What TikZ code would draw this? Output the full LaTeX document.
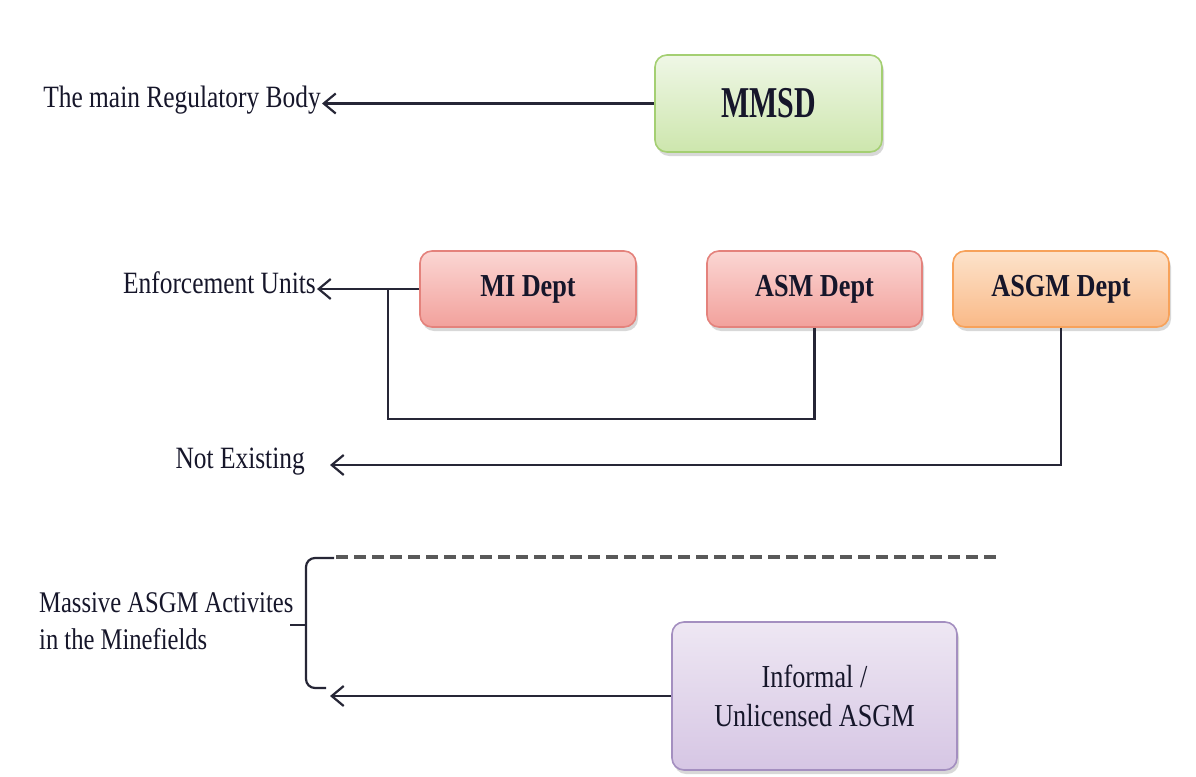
\documentclass[tikz,border=0pt]{standalone}
\usepackage{fontspec}
\setmainfont{Liberation Serif}[FakeStretch=0.82]
\newfontfamily\narrowfont{Liberation Serif}[FakeStretch=0.68]
\usetikzlibrary{arrows.meta,shadows}
\definecolor{linec}{HTML}{262636}
\definecolor{gtop}{HTML}{EFF7E6}\definecolor{gbot}{HTML}{CDE6AD}\definecolor{gdraw}{HTML}{A4CF72}
\definecolor{rtop}{HTML}{FBD6D3}\definecolor{rbot}{HTML}{F2A19C}\definecolor{rdraw}{HTML}{E4827C}
\definecolor{otop}{HTML}{FDE3CB}\definecolor{obot}{HTML}{F9B987}\definecolor{odraw}{HTML}{F7A25A}
\definecolor{ptop}{HTML}{EEE7F3}\definecolor{pbot}{HTML}{D6C6E4}\definecolor{pdraw}{HTML}{A48FC0}
\definecolor{textc}{HTML}{16162A}
\begin{document}
\begin{tikzpicture}[x=1pt,y=-1pt,
  box/.style={rounded corners=12pt, line width=1.6pt, align=center, text=textc,
    drop shadow={shadow xshift=2pt, shadow yshift=-4pt, opacity=0.25, fill=black!60}},
  greenbox/.style={box, draw=gdraw, top color=gtop, bottom color=gbot},
  redbox/.style={box, draw=rdraw, top color=rtop, bottom color=rbot},
  orangebox/.style={box, draw=odraw, top color=otop, bottom color=obot},
  purplebox/.style={box, draw=pdraw, top color=ptop, bottom color=pbot},
  deptfont/.style={font=\bfseries\fontsize{32}{38}\selectfont},
  lbl/.style={inner sep=1pt, text=textc, font=\fontsize{31}{37}\selectfont},
  conn/.style={draw=linec, line width=2.2pt},
  arr/.style={conn, -{Straight Barb[length=12pt,width=20pt]}},
  dashline/.style={draw=black!65, line width=3.2pt, dash pattern=on 12pt off 6pt}
]
\useasboundingbox[fill=white] (0,0) rectangle (1196,776);

% boxes
\node[greenbox, minimum width=227pt, minimum height=97pt, font=\narrowfont\bfseries\fontsize{44}{50}\selectfont] (mmsd) at (768.5,103.5) {MMSD};
\node[redbox, deptfont, minimum width=216pt, minimum height=76pt] (mi) at (528,289) {MI Dept};
\node[redbox, deptfont, minimum width=215pt, minimum height=76pt] (asm) at (814.5,289) {ASM Dept};
\node[orangebox, deptfont, minimum width=216pt, minimum height=76pt] (asgm) at (1061,289) {ASGM Dept};
\node[purplebox, minimum width=285pt, minimum height=148pt, font=\fontsize{32}{39}\selectfont] (inf) at (814.5,696) {Informal /\\Unlicensed ASGM};

% labels
\node[lbl, anchor=east] (reg) at (322,100) {The main Regulatory Body};
\node[lbl, anchor=east] (enf) at (317,283) {Enforcement Units};
\node[lbl, anchor=east] (ne) at (306,462) {Not Existing};
\node[lbl, anchor=west, align=left, font=\fontsize{30}{37}\selectfont] (mass) at (38,621) {Massive ASGM Activites\\in the Minefields};

% coordinates
\coordinate (jtop) at (388,289);
\coordinate (jbot) at (388,419);
\coordinate (netip) at (330,465);
\coordinate (bt) at (334,558);
\coordinate (bc1) at (306,558);
\coordinate (bc2) at (306,688);
\coordinate (bb) at (326,688);
\coordinate (bmid) at (306,625);
\coordinate (bm) at (290,625);
\coordinate (dl) at (336,557);
\coordinate (dr) at (998,557);
\coordinate (inftip) at (330,695);

% connectors
\draw[arr] (mmsd.west) -- (mmsd.west -| reg.east);
\draw[arr] (mi.west) -- (mi.west -| enf.east);
\draw[conn] (asm.south) |- (jbot) -- (jtop);
\draw[arr] (asgm.south) |- (netip);
\draw[dashline] (dl) -- (dr);
\draw[conn, rounded corners=9pt] (bt) -- (bc1) -- (bc2) -- (bb);
\draw[conn] (bmid) -- (bm);
\draw[arr] (inf.west) -- (inf.west -| inftip);
\end{tikzpicture}
\end{document}
